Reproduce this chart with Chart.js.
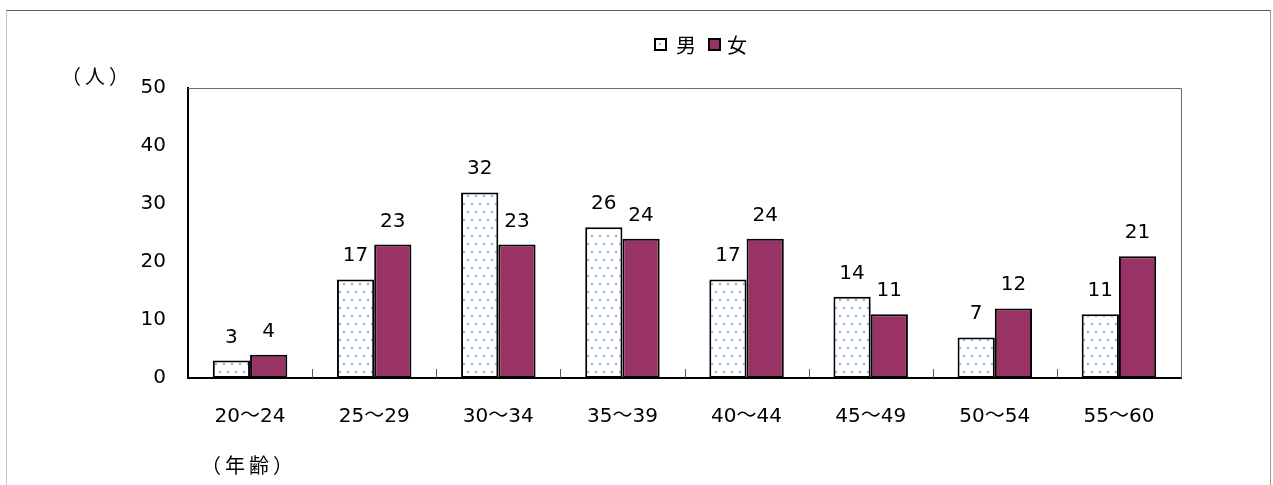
<!DOCTYPE html>
<html>
<head>
<meta charset="utf-8">
<script src="https://cdn.jsdelivr.net/npm/chart.js@4.4.1/dist/chart.umd.min.js"></script>
<style>
  html,body{margin:0;padding:0;background:#fff;}
  #wrap{position:relative;width:1273px;height:485px;overflow:hidden;}
  #frame{position:absolute;left:6px;top:10px;width:1265px;height:520px;border-top:1px solid #5a5a5a;border-left:1px solid #c4c4c4;border-right:1px solid #9a9a9a;box-sizing:border-box;}
  canvas{position:absolute;left:0;top:0;}
  .txt{position:absolute;font-family:"Noto Sans CJK JP","DejaVu Sans",sans-serif;font-size:20px;color:#000;line-height:24px;white-space:nowrap;}
  .box{position:absolute;width:13px;height:13px;box-sizing:border-box;border:2px solid #000;}
</style>
</head>
<body>
<div id="wrap">
  <div id="frame"></div>
  <canvas id="c" width="1273" height="485"></canvas>
  <div class="box" style="left:654px;top:38px;background:#fff;"><div style="position:absolute;left:3px;top:3px;width:2px;height:2px;background:#8fb0e0;"></div></div>
  <div class="txt" style="left:676px;top:33px;">男</div>
  <div class="box" style="left:708px;top:38px;background:#993366;"></div>
  <div class="txt" style="left:727px;top:33px;">女</div>
  <div class="txt" style="left:61px;top:64px;letter-spacing:4px;">（人）</div>
  <div class="txt" style="left:201px;top:453px;letter-spacing:4px;">（年齢）</div>
</div>
<script>
const categories = ["20～24","25～29","30～34","35～39","40～44","45～49","50～54","55～60"];
const maleValues = [3,17,32,26,17,14,7,11];
const femaleValues = [4,23,23,24,24,11,12,21];
const seriesNames = ["男","女"];
const yTicks = [0,10,20,30,40,50];

const FONT = '"DejaVu Sans","Noto Sans CJK JP",sans-serif';

function makePattern(){
  const c=document.createElement('canvas'); c.width=16; c.height=16;
  const g=c.getContext('2d');
  g.fillStyle='#fff'; g.fillRect(0,0,16,16);
  g.fillStyle='#8fb0e0';
  [[4,4],[12,4],[0,12],[8,12],[16,12]].forEach(([x,y])=>{g.beginPath();g.arc(x,y,1.2,0,Math.PI*2);g.fill();});
  return g.createPattern(c,'repeat');
}

const decor = {
  id:'decor',
  beforeDatasetsDraw(chart){
    const a=chart.chartArea, ctx=chart.ctx;
    ctx.save();
    ctx.strokeStyle='#6a6a6a'; ctx.lineWidth=1;
    ctx.beginPath();
    ctx.moveTo(a.left, a.top+0.5); ctx.lineTo(a.right+0.5, a.top+0.5); ctx.lineTo(a.right+0.5, a.bottom);
    ctx.stroke();
    ctx.restore();
  },
  afterDatasetsDraw(chart){
    const ctx=chart.ctx, a=chart.chartArea, xs=chart.scales.x;
    ctx.save();
    ctx.strokeStyle='#555'; ctx.lineWidth=1;
    for(let i=1;i<categories.length;i++){
      const x=Math.round((xs.getPixelForValue(i-1)+xs.getPixelForValue(i))/2)+0.5;
      ctx.beginPath(); ctx.moveTo(x,a.bottom-9); ctx.lineTo(x,a.bottom); ctx.stroke();
    }
    ctx.fillStyle='#000'; ctx.font='20px '+FONT; ctx.textAlign='center'; ctx.textBaseline='alphabetic';
    chart.data.datasets.forEach((ds,di)=>{
      chart.getDatasetMeta(di).data.forEach((bar,i)=>{
        ctx.fillText(String(ds.data[i]), bar.x, bar.y-18);
      });
    });
    ctx.restore();
  }
};

new Chart(document.getElementById('c'),{
  type:'bar',
  data:{
    labels:categories,
    datasets:[
      {label:seriesNames[0],data:maleValues,backgroundColor:makePattern(),borderColor:'#000',borderWidth:2,borderSkipped:false,barPercentage:1.0,categoryPercentage:0.6},
      {label:seriesNames[1],data:femaleValues,backgroundColor:'#993366',borderColor:'#000',borderWidth:2,borderSkipped:false,barPercentage:1.0,categoryPercentage:0.6}
    ]
  },
  options:{
    responsive:false,
    animation:false,
    devicePixelRatio:1,
    layout:{padding:{left:0,top:88,right:92,bottom:0}},
    plugins:{legend:{display:false},tooltip:{enabled:false}},
    scales:{
      x:{
        grid:{display:false},
        border:{display:true,color:'#000',width:2},
        ticks:{color:'#000',font:{family:FONT,size:20},padding:19,maxRotation:0,autoSkip:false},
        afterFit(s){s.height=107;}
      },
      y:{
        min:0,max:50,
        grid:{display:false},
        border:{display:true,color:'#000',width:2},
        afterBuildTicks(s){s.ticks=yTicks.map(v=>({value:v}));},
        ticks:{color:'#000',font:{family:FONT,size:20},padding:14},
        afterFit(s){s.width=188;}
      }
    }
  },
  plugins:[decor]
});
</script>
</body>
</html>
